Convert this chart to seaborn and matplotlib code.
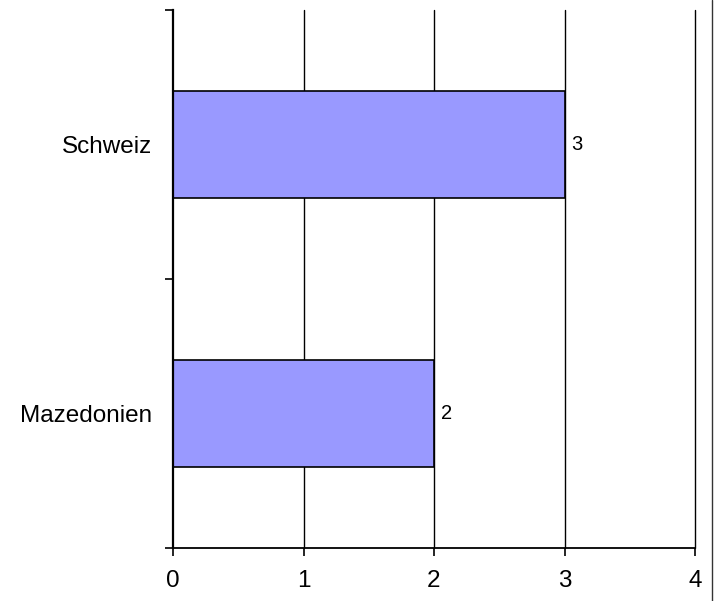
import pandas as pd
import matplotlib.pyplot as plt
import seaborn as sns
from matplotlib.lines import Line2D

# Chart data
countries = ["Schweiz", "Mazedonien"]
counts = [3, 2]
x_ticks = [0, 1, 2, 3, 4]

df = pd.DataFrame({"Land": countries, "Anzahl": counts})

sns.set_style("white")
plt.rcParams["font.family"] = ["Liberation Sans", "DejaVu Sans"]
plt.rcParams["text.color"] = "black"
plt.rcParams["xtick.color"] = "black"
plt.rcParams["ytick.color"] = "black"

fig = plt.figure(figsize=(7.16, 6.01), dpi=100)
ax = fig.add_axes([173 / 716, 53 / 601, 522 / 716, 538 / 601])

sns.barplot(data=df, x="Anzahl", y="Land", order=countries, orient="h",
            color="#9999FF", saturation=1, width=0.4,
            edgecolor="black", linewidth=1.2, ax=ax)

ax.bar_label(ax.containers[0], fmt="%d", padding=5, fontsize=14.5, color="black")

ax.set_xlim(0, 4)
ax.set_ylim(1.5, -0.5)
ax.set_xticks(x_ticks)
ax.set_xticklabels([str(t) for t in x_ticks])
ax.set_xlabel("")
ax.set_ylabel("")

# vertical gridlines
for t in x_ticks[1:]:
    ax.axvline(t, color="black", linewidth=1.0, zorder=0, clip_on=False)

# category boundary ticks on the y axis, labels centred without ticks
ax.set_yticks([-0.5, 0.5, 1.5], minor=True)
ax.tick_params(axis="y", which="major", length=0, pad=15, labelsize=17.5,
               labelcolor="black")
ax.tick_params(axis="y", which="minor", length=6, width=1.2, color="black",
               direction="out", left=True)
ax.tick_params(axis="x", which="major", length=6, width=1.2, color="black",
               direction="out", bottom=True, pad=10, labelsize=17.5,
               labelcolor="black")

for side in ["top", "right"]:
    ax.spines[side].set_visible(False)
ax.spines["left"].set_linewidth(1.6)
ax.spines["bottom"].set_linewidth(1.3)
ax.spines["left"].set_color("black")
ax.spines["bottom"].set_color("black")

# thin border line at the right edge of the image
fig.add_artist(Line2D([712 / 716, 712 / 716], [0, 1], color="#333333",
                      linewidth=1.0, transform=fig.transFigure))

fig.savefig("out.png", dpi=100)
